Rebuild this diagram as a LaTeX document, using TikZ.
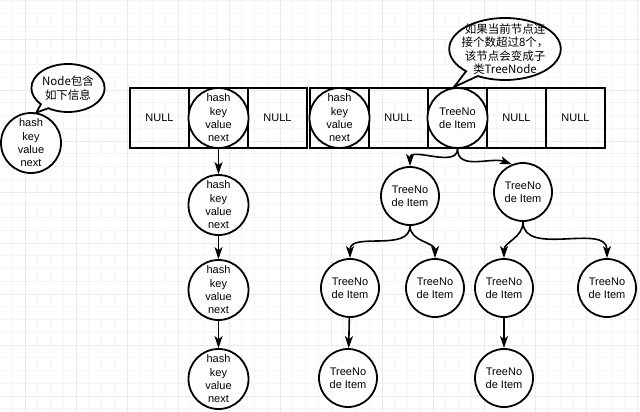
\documentclass[tikz,border=0pt]{standalone}
\usepackage{fontspec}
\setmainfont{Liberation Sans}
\newfontfamily\cjk{Noto Sans CJK SC}
\usepackage{tikz}
\usetikzlibrary{positioning}
\usetikzlibrary{arrows.meta,shapes.callouts}
\tikzstyle{cell}=[rectangle,draw,line width=1.5pt,minimum width=59pt,minimum height=60pt,inner sep=0pt]
\tikzstyle{entry}=[circle,draw,line width=1.8pt,fill=white,minimum size=60pt,inner sep=0pt,align=center]
\tikzstyle{treenode}=[circle,draw,line width=1.8pt,fill=white,minimum size=58pt,inner sep=0pt,align=center]
\tikzstyle{edge} = [draw,line width=1.6pt,-{Stealth[length=12pt,width=8pt,inset=3pt]}]
\tikzstyle{note}=[ellipse callout,draw,line width=1.8pt,fill=white,align=center,inner sep=0pt,font={\cjk\fontsize{11.5}{13.3}\selectfont}]
\tikzstyle{gridminor}=[draw,black!4,line width=0.6pt]
\tikzstyle{gridmajor}=[draw,black!8,line width=0.8pt]

\begin{document}
\begin{tikzpicture}[x=1pt,y=1pt,every node/.style={font=\fontsize{11}{13.3}\selectfont}]

 \useasboundingbox (0,0) rectangle (640,-412);

 %grid
 \foreach \k in {0,...,50}
   \path[gridminor] ({-0.5+\k*12.75},0) -- ({-0.5+\k*12.75},-412);
 \foreach \k in {0,...,32}
   \path[gridminor] (0,{-0.75-\k*12.75}) -- (640,{-0.75-\k*12.75});
 \foreach \k in {0,...,12}
   \path[gridmajor] ({25+\k*51},0) -- ({25+\k*51},-412);
 \foreach \k in {0,...,7}
   \path[gridmajor] (0,{-39-\k*51}) -- (640,{-39-\k*51});

 %buckets
 \def\dy{-118};
  \foreach \x/\name/\label in {159.5/c1/NULL, 218.5/c2/{}, 277.5/c3/NULL, 339.5/c4/{}, 398.5/c5/NULL, 457.5/c6/{}, 516.5/c7/NULL, 575.5/c8/NULL}
          \node[cell] (\name) at (\x,\dy) {\label};

  \node[entry] (b2) at (c2) {hash\\key\\value\\next};
  \node[entry] (b4) at (c4) {hash\\key\\value\\next};
  \node[treenode, minimum size=60pt] (t0) at (c6) {TreeNo\\de Item};

 %list
 \def\dx{218.5};
  \foreach \y/\name in {-205/h1, -290/h2, -379/h3}
          \node[entry] (\name) at (\dx,\y) {hash\\key\\value\\next};

  \foreach \source/ \dest in {b2/h1, h1/h2, h2/h3}
         \path[edge] (\source) -- (\dest);

 %tree
  \foreach \x/\y/\name in {410/-196/t1, 523/-192/t2, 350/-288/t3, 435/-288/t4, 504/-288/t5, 607/-288/t6, 348/-378/t7, 504/-378/t8}
          \node[treenode] (\name) at (\x,\y) {TreeNo\\de Item};

  \foreach \source/ \dest in {t0/t1, t1/t3, t1/t4, t2/t5, t2/t6}
         \path[edge] (\source.south) to[out=-90,in=90] (\dest.north);
  \path[edge] (t0.south) to[out=-90,in=160] (t2.112);

  \foreach \source/ \dest in {t3/t7, t5/t8}
         \path[edge] (\source) -- (\dest);

 %notes
  \node[entry] (n0) at (31,-143) {hash\\key\\value\\next};
  \node[note, minimum width=64pt, minimum height=48pt, callout absolute pointer={(n0.80)}] (n1) at (68,-88) {Node包含\\如下信息};

  \coordinate (tip) at (454,-87);
  \node[note, minimum width=100pt, minimum height=62pt, inner xsep=-4pt, inner ysep=-8pt, callout absolute pointer={(tip)}] (n2) at (505,-49) {如果当前节点连\\接个数超过8个，\\该节点会变成子\\类TreeNode};

\end{tikzpicture}
\end{document}
